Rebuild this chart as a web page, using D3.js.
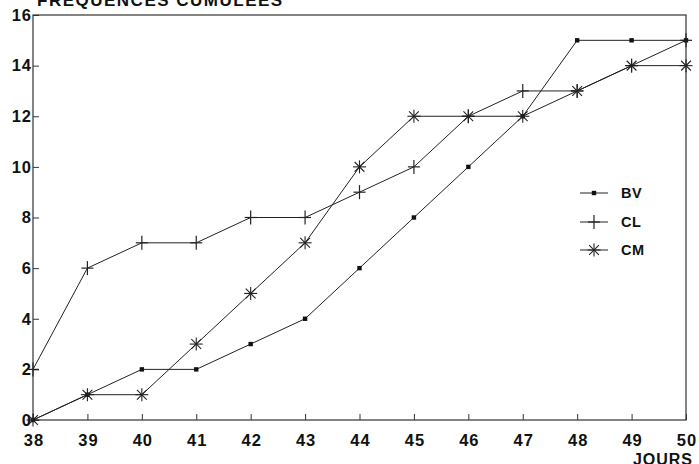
<!DOCTYPE html>
<html>
<head>
<meta charset="utf-8">
<script src="https://cdn.jsdelivr.net/npm/d3@7"></script>
<style>
  body { margin: 0; background: #fff; }
  text { font-family: "Liberation Sans", Arial, sans-serif; font-weight: bold; fill: #111; }
</style>
</head>
<body>
<svg width="699" height="464"></svg>
<script>
var days = [38, 39, 40, 41, 42, 43, 44, 45, 46, 47, 48, 49, 50];
var bv = [0, 1, 2, 2, 3, 4, 6, 8, 10, 12, 15, 15, 15];
var cl = [2, 6, 7, 7, 8, 8, 9, 10, 12, 13, 13, 14, 15];
var cm = [0, 1, 1, 3, 5, 7, 10, 12, 12, 12, 13, 14, 14];
var yTicks = [0, 2, 4, 6, 8, 10, 12, 14, 16];
var seriesNames = ["BV", "CL", "CM"];

var svg = d3.select("svg");
var plotL = 33, plotR = 686, plotT = 15, plotB = 420;

var x = d3.scaleLinear().domain([38, 50]).range([plotL, plotR]);
var y = d3.scaleLinear().domain([0, 16]).range([plotB, plotT]);

// frame
svg.append("rect")
   .attr("x", plotL).attr("y", plotT)
   .attr("width", plotR - plotL).attr("height", plotB - plotT)
   .attr("fill", "none").attr("stroke", "#333").attr("stroke-width", 1.2);

// axes (ticks inward)
var xAxis = d3.axisBottom(x).tickValues(days).tickSize(-6).tickPadding(14).tickFormat(d3.format("d"));
var gx = svg.append("g").attr("transform", "translate(0," + plotB + ")").call(xAxis);
gx.select(".domain").remove();
gx.selectAll("line").attr("stroke", "#333");
gx.selectAll("text").style("font-size", "16.5px").style("letter-spacing", "1px")
   .attr("dx", "0.5px").attr("fill", "#111");

var yAxis = d3.axisLeft(y).tickValues(yTicks).tickSize(-6).tickPadding(2).tickFormat(d3.format("d"));
var gy = svg.append("g").attr("transform", "translate(" + plotL + ",0)").call(yAxis);
gy.select(".domain").remove();
gy.selectAll("line").attr("stroke", "#333");
gy.selectAll("text").style("font-size", "16.5px").style("letter-spacing", "1px")
   .attr("dx", "1px").attr("fill", "#111");

// title and x label
svg.append("text").attr("x", 37).attr("y", 6).style("font-size", "17px").style("letter-spacing", "1.5px")
   .text("FREQUENCES CUMULEES");
svg.append("text").attr("x", 693).attr("y", 465).attr("text-anchor", "end")
   .style("font-size", "16px").style("letter-spacing", "1px").text("JOURS");

var line = d3.line()
   .x(function(d, i) { return x(days[i]); })
   .y(function(d) { return y(d); });

var series = [bv, cl, cm];
series.forEach(function(s) {
   svg.append("path").attr("d", line(s))
      .attr("fill", "none").attr("stroke", "#222").attr("stroke-width", 1);
});

function marker(g, type, cx, cy) {
   if (type === 0) {
      g.append("rect").attr("x", cx - 2.2).attr("y", cy - 2.2).attr("width", 4.4).attr("height", 4.4).attr("fill", "#111");
   } else if (type === 1) {
      g.append("line").attr("x1", cx).attr("x2", cx).attr("y1", cy - 7).attr("y2", cy + 7).attr("stroke", "#222").attr("stroke-width", 1.2);
      g.append("line").attr("x1", cx - 6).attr("x2", cx + 6).attr("y1", cy).attr("y2", cy).attr("stroke", "#222").attr("stroke-width", 1.2);
   } else {
      var r = 6.5;
      [[0, -r, 0, r], [-r, 0, r, 0], [-r * 0.75, -r * 0.75, r * 0.75, r * 0.75], [-r * 0.75, r * 0.75, r * 0.75, -r * 0.75]].forEach(function(a) {
         g.append("line").attr("x1", cx + a[0]).attr("y1", cy + a[1]).attr("x2", cx + a[2]).attr("y2", cy + a[3])
            .attr("stroke", "#222").attr("stroke-width", 1.1);
      });
   }
}

series.forEach(function(s, k) {
   var g = svg.append("g");
   s.forEach(function(v, i) { marker(g, k, x(days[i]), y(v)); });
});

// legend
var legY = [193, 222, 250];
seriesNames.forEach(function(name, k) {
   var g = svg.append("g");
   g.append("line").attr("x1", 580).attr("x2", 608).attr("y1", legY[k]).attr("y2", legY[k]).attr("stroke", "#222").attr("stroke-width", 1);
   marker(g, k, 594, legY[k]);
   g.append("text").attr("x", 621).attr("y", legY[k] + 5).style("font-size", "14.5px").style("letter-spacing", "0.5px").text(name);
});
</script>
</body>
</html>
